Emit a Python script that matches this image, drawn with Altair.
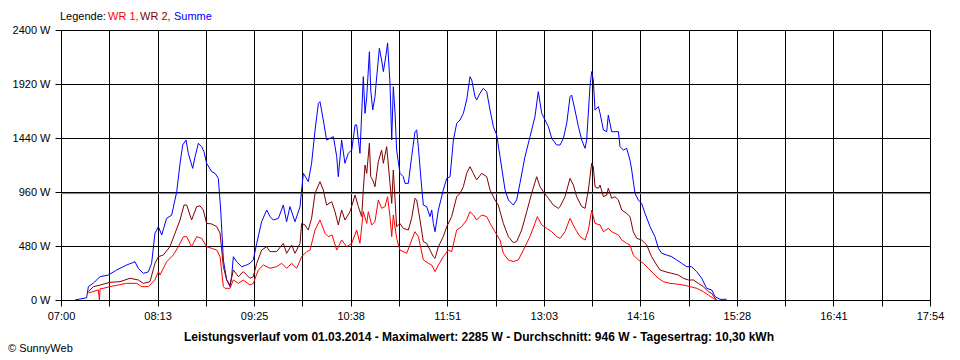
import altair as alt
import pandas as pd

# ---- data (time in minutes after midnight, power in W) ----
summe_t = [430.5, 439.3, 440.6, 444.3, 449.4, 455.6, 461.9, 469.4, 475.7, 478.2, 482.0, 485.7, 488.2, 490.7,
           493.3, 495.8, 499.5, 503.3, 507.1, 509.6, 511.6, 514.1, 515.8, 519.1, 520.9, 523.4, 525.9, 527.6,
           529.6, 533.4, 535.9, 538.4, 540.2, 542.2, 544.7, 547.2, 548.4, 549.7, 552.2, 556.0, 559.7, 562.2,
           564.7, 567.3, 571.0, 574.8, 577.3, 579.8, 583.6, 587.3, 589.8, 592.3, 596.1, 599.9, 601.1, 602.4,
           606.1, 608.6, 611.2, 613.7, 614.9, 617.4, 619.9, 622.5, 625.0, 627.5, 628.7, 631.2, 633.7, 636.2,
           638.8, 641.3, 642.5, 645.0, 647.5, 648.8, 650.1, 652.1, 653.1, 654.6, 656.3, 657.6, 659.6, 661.3,
           662.6, 664.6, 665.8, 667.6, 668.9, 670.1, 671.4, 672.6, 675.1, 677.6, 678.9, 681.4, 683.9, 686.4,
           687.7, 688.9, 691.4, 692.7, 695.2, 697.7, 699.0, 700.2, 701.5, 704.0, 707.7, 710.3, 712.8, 715.3,
           717.8, 720.3, 722.8, 725.3, 727.8, 729.1, 731.6, 732.8, 735.3, 737.8, 740.4, 742.9, 745.4, 747.9,
           750.4, 754.2, 756.7, 760.4, 762.9, 765.4, 769.2, 773.0, 776.7, 779.2, 781.8, 784.3, 786.8, 789.3,
           793.0, 795.6, 798.1, 800.6, 803.1, 804.3, 806.8, 809.4, 811.9, 814.4, 815.6, 818.1, 819.4, 820.6,
           821.9, 824.4, 825.7, 828.2, 830.7, 831.9, 834.4, 836.9, 839.5, 840.7, 843.2, 845.7, 848.2, 849.5,
           852.0, 854.5, 857.0, 859.5, 863.3, 867.0, 869.6, 872.1, 875.8, 879.6, 883.4, 887.1, 890.9, 894.6,
           898.4, 902.2, 905.9, 909.7, 912.2, 916.0, 921.0]
summe_w = [0, 20, 118, 150, 207, 222, 267, 311, 340, 281, 237, 250, 326, 593,
           652, 578, 726, 755, 963, 1215, 1378, 1422, 1304, 1170, 1274, 1393, 1363, 1318,
           1215, 1141, 1126, 1082, 800, 355, 178, 118, 207, 385, 340, 296, 311, 326,
           356, 504, 696, 800, 741, 711, 726, 844, 696, 830, 696, 830, 978, 1126,
           1052, 1215, 1511, 1748, 1763, 1600, 1422, 1437, 1452, 1274, 1096, 1422, 1215, 1304,
           1333, 1556, 1556, 1304, 1985, 1659, 1807, 2207, 1867, 1689, 1807, 1985, 2237, 2133,
           2030, 2178, 2285, 1926, 1422, 1896, 1659, 1333, 1126, 1096, 1037, 1037, 1274, 1496,
           1511, 1363, 1007, 844, 830, 741, 800, 681, 607, 800, 978, 1081, 1096, 1422,
           1570, 1600, 1659, 1778, 1985, 1956, 1807, 1778, 1837, 1881, 1852, 1689, 1541, 1467,
           1274, 978, 889, 844, 889, 1037, 1274, 1452, 1630, 1852, 1659, 1600, 1541, 1437,
           1378, 1378, 1437, 1570, 1807, 1822, 1689, 1541, 1422, 1348, 1422, 1896, 2030, 1956,
           1689, 1719, 1659, 1511, 1496, 1644, 1496, 1496, 1496, 1363, 1333, 1348, 1244, 1156,
           948, 889, 859, 770, 652, 563, 459, 415, 400, 385, 356, 326, 296, 296,
           252, 193, 104, 89, 30, 6, 6]

wr2_t = [440.6, 444.3, 449.4, 456.9, 464.4, 471.9, 478.2, 482.0, 487.0, 490.7, 493.3, 497.0, 502.0, 505.8,
         509.6, 512.6, 514.6, 518.3, 522.1, 524.6, 527.1, 529.6, 533.4, 537.2, 539.7, 542.2, 544.7, 547.2,
         549.7, 553.5, 557.2, 562.2, 564.7, 567.3, 571.0, 574.8, 577.3, 582.3, 587.3, 589.8, 593.6, 596.1,
         599.9, 601.1, 603.6, 606.1, 608.6, 611.2, 614.9, 617.4, 619.9, 623.7, 626.2, 628.7, 631.2, 633.7,
         637.5, 641.3, 643.8, 646.3, 647.5, 648.8, 650.1, 652.1, 653.1, 654.6, 656.3, 658.8, 661.3, 662.6,
         665.1, 667.6, 668.9, 670.1, 671.4, 672.6, 675.1, 677.6, 681.4, 683.9, 686.4, 687.7, 690.2, 692.7,
         695.2, 697.7, 700.2, 701.5, 704.0, 707.7, 710.3, 714.0, 717.8, 720.3, 722.8, 725.3, 727.8, 730.3,
         732.8, 736.6, 740.4, 742.9, 746.6, 749.1, 752.9, 756.7, 760.4, 762.9, 766.7, 770.5, 774.2, 778.0,
         780.5, 783.0, 786.8, 790.5, 794.3, 795.6, 799.3, 803.1, 805.6, 808.1, 811.9, 814.4, 816.9, 819.4,
         820.6, 821.9, 824.4, 825.7, 828.2, 830.7, 831.9, 834.4, 836.9, 839.5, 842.0, 845.7, 848.2, 850.7,
         853.3, 857.0, 860.8, 864.5, 868.3, 870.8, 874.6, 879.6, 884.6, 888.4, 892.1, 895.9, 899.7, 903.4,
         907.2, 909.7, 912.2, 913.5]
wr2_w = [74, 118, 133, 157, 163, 193, 178, 148, 163, 326, 385, 400, 474, 593,
         711, 844, 844, 711, 830, 837, 800, 681, 676, 652, 593, 296, 178, 133,
         267, 207, 252, 193, 207, 326, 444, 474, 430, 430, 504, 415, 489, 415,
         504, 681, 667, 622, 726, 948, 1052, 978, 844, 874, 785, 667, 800, 711,
         785, 933, 830, 741, 978, 1200, 1126, 1393, 1096, 1067, 1007, 1230, 1333, 1215,
         1363, 1037, 859, 1156, 889, 652, 681, 637, 622, 726, 904, 889, 711, 519,
         504, 444, 385, 370, 474, 563, 652, 741, 918, 948, 1007, 1126, 1185, 1126,
         1067, 1126, 1096, 978, 889, 844, 681, 563, 510, 519, 622, 785, 948, 1096,
         1007, 963, 904, 844, 815, 830, 918, 1081, 1022, 918, 830, 815, 978, 1215,
         1185, 1007, 993, 1022, 918, 933, 993, 904, 918, 889, 800, 770, 741, 607,
         548, 533, 489, 385, 311, 267, 252, 237, 222, 193, 178, 178, 148, 119,
         74, 59, 15, 0]

wr1_t = [440.6, 448.1, 448.9, 449.4, 451.9, 456.9, 469.4, 477.0, 480.7, 485.7, 490.7, 493.3, 494.5, 499.5,
         504.5, 508.3, 512.1, 514.6, 518.3, 522.1, 525.9, 529.6, 533.4, 537.2, 539.7, 542.2, 543.4, 547.2,
         549.7, 553.5, 557.2, 562.2, 564.7, 568.5, 572.3, 577.3, 582.3, 586.1, 589.8, 593.6, 597.4, 601.1,
         604.9, 607.4, 611.2, 614.9, 618.7, 621.2, 624.0, 627.5, 631.2, 635.0, 638.8, 642.5, 645.0, 647.5,
         650.1, 651.3, 653.8, 656.3, 658.8, 661.3, 663.8, 665.8, 667.6, 668.9, 670.1, 672.6, 675.1, 680.2,
         683.9, 686.4, 689.0, 692.7, 696.5, 699.0, 701.5, 704.0, 707.7, 711.5, 714.0, 717.8, 721.5, 725.3,
         727.8, 730.3, 732.8, 736.6, 740.4, 742.9, 746.6, 750.4, 752.9, 756.7, 760.4, 764.2, 768.0, 772.9,
         776.7, 778.5, 781.8, 785.5, 789.3, 793.0, 795.6, 799.3, 803.1, 806.8, 810.6, 814.4, 816.9, 819.4,
         821.9, 825.7, 828.2, 831.9, 834.4, 836.9, 839.5, 842.0, 845.7, 848.2, 850.7, 854.5, 858.3, 862.0,
         865.8, 869.6, 873.3, 878.3, 883.4, 888.4, 893.4, 898.4, 903.4, 907.2, 910.9, 913.5]
wr1_w = [62, 90, 0, 100, 104, 119, 148, 148, 119, 119, 180, 252, 222, 340,
         400, 474, 563, 563, 474, 563, 548, 474, 459, 444, 385, 119, 104, 104,
         178, 148, 178, 133, 148, 267, 311, 282, 296, 326, 282, 326, 282, 385,
         430, 444, 622, 711, 593, 563, 578, 444, 533, 474, 504, 622, 504, 785,
         681, 785, 667, 696, 889, 815, 830, 918, 741, 563, 756, 548, 444, 415,
         533, 607, 563, 356, 326, 311, 252, 311, 385, 444, 430, 622, 652, 711,
         785, 756, 711, 756, 741, 681, 607, 533, 415, 356, 341, 356, 444, 563,
         681, 741, 667, 637, 607, 563, 548, 607, 726, 637, 563, 533, 622, 800,
         681, 667, 607, 637, 607, 593, 578, 533, 504, 489, 400, 356, 326, 281,
         237, 193, 163, 148, 142, 133, 119, 104, 74, 44, 15, 0]

average_w = [946]
y_ticks = [0, 480, 960, 1440, 1920, 2400]
x_tick_labels = ["07:00", "08:13", "09:25", "10:38", "11:51", "13:03", "14:16", "15:28", "16:41", "17:54"]
legend_parts = ["Legende:", "WR 1,", "WR 2,", "Summe"]
title_text = "Leistungsverlauf vom 01.03.2014 - Maximalwert: 2285 W - Durchschnitt: 946 W - Tagesertrag: 10,30 kWh"
credit_text = "\u00a9 SunnyWeb"

# ---- chart ----
T0, T1 = 420, 1074
step = (T1 - T0) / 18
x_grid = [T0 + k * step for k in range(19)]
lab_arr = "[" + ",".join("'%s'" % s for s in x_tick_labels) + "]"
x_label_expr = (f"round((datum.value-{T0})/{step}) % 2 == 0 ? "
                f"{lab_arr}[round((datum.value-{T0})/{2*step})] : ''")

FONT = "Liberation Sans"
W, H = 869, 270

x_axis = alt.Axis(values=x_grid, labelExpr=x_label_expr, grid=True, gridColor="black", gridOpacity=1,
                  gridWidth=1, tickColor="black", tickSize=6, domainColor="black", labelColor="black",
                  labelFont=FONT, labelFontSize=11, labelPadding=4, title=None, labelFlush=False,
                  labelOverlap=False)
y_axis = alt.Axis(values=y_ticks, labelExpr="datum.value + ' W'", grid=True, gridColor="black",
                  gridOpacity=1, gridWidth=1, tickColor="black", tickSize=6, domainColor="black",
                  labelColor="black", labelFont=FONT, labelFontSize=11, labelPadding=5, title=None)

xs = alt.Scale(domain=[T0, T1], nice=False, zero=False)
ys = alt.Scale(domain=[0, 2400], nice=False)


def series(t, w, color):
    df = pd.DataFrame({"t": t, "w": w})
    return alt.Chart(df).mark_line(color=color, strokeWidth=1, clip=True).encode(
        x=alt.X("t:Q", scale=xs, axis=x_axis),
        y=alt.Y("w:Q", scale=ys, axis=y_axis),
    )


avg = alt.Chart(pd.DataFrame({"avg": average_w})).mark_rule(color="#808080", strokeWidth=1).encode(
    y=alt.Y("avg:Q", scale=ys, axis=y_axis)
)


def label(text, x, y, color="black", bold=False, align="left", size=11):
    return alt.Chart(pd.DataFrame({"s": [text]})).mark_text(
        align=align, baseline="middle", font=FONT, fontSize=size, color=color,
        fontWeight="bold" if bold else "normal"
    ).encode(text="s:N", x=alt.value(x), y=alt.value(y))


layers = [
    avg,
    series(summe_t, summe_w, "#0000FF"),
    series(wr2_t, wr2_w, "#800000"),
    series(wr1_t, wr1_w, "#FF0000"),
    label(legend_parts[0], -1, -13),
    label(legend_parts[1], 47, -13, "#FF0000"),
    label(legend_parts[2], 79, -13, "#800000"),
    label(legend_parts[3], 113, -13, "#0000FF"),
    label(title_text, 418, 307, bold=True, align="center", size=12),
    label(credit_text, -53, 319),
]

chart = alt.layer(*layers).properties(
    width=W, height=H,
    autosize=alt.AutoSizeParams(type="none"),
    padding={"left": 53, "top": 22, "right": 22, "bottom": 56},
    background="white",
).configure_view(stroke="black", strokeWidth=1)

chart.save("out.html", embed_options={"renderer": "svg", "actions": False})
